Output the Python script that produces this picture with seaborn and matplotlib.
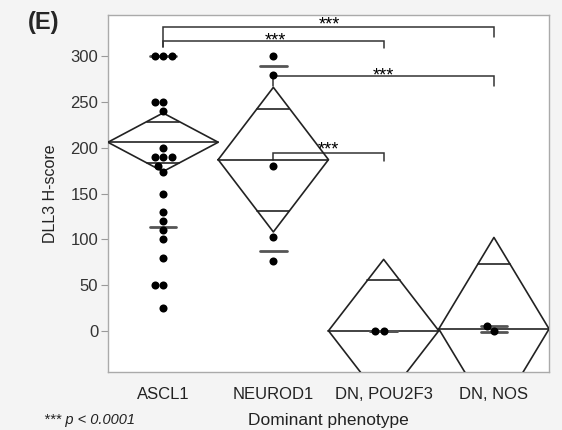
import numpy as np
import pandas as pd
import matplotlib
matplotlib.use('Agg')
import matplotlib.pyplot as plt
import seaborn as sns

## data
groups = ['ASCL1', 'NEUROD1', 'DN, POU2F3', 'DN, NOS']
ascl1 = [300, 300, 300, 250, 250, 240, 200, 190, 190, 190, 180, 173,
         150, 130, 120, 110, 100, 80, 50, 50, 25]
neurod1 = [300, 280, 180, 103, 76]
pou2f3 = [0, 0]
nos = [5, 0]

# means diamonds (group mean, 95% CI half width) and std dev lines
means = [206, 187, 0, 2]
ci_half = [32, 79, 78, 100]
sd_low = [113, 87, 0, -1]
sd_high = [300, 289, 0, 5]

# significance brackets: (left group, right group, bar height, left drop, right drop)
brackets = [(0, 3, 332, 310, 321),
            (0, 2, 317, 310, 309),
            (1, 3, 278, 267, 267),
            (1, 2, 194, 187, 185)]
# centre of each '***' label
star_pos = [(1.51, 340), (1.02, 323), (2.0, 284), (1.5, 204)]

## build the table
df = pd.DataFrame({
    'group': ['ASCL1'] * len(ascl1) + ['NEUROD1'] * len(neurod1)
             + ['DN, POU2F3'] * len(pou2f3) + ['DN, NOS'] * len(nos),
    'score': ascl1 + neurod1 + pou2f3 + nos,
})

sns.set_style('white')
plt.rcParams['font.family'] = ['Liberation Sans', 'DejaVu Sans']

fig = plt.figure(figsize=(5.62, 4.3), dpi=100, facecolor='#f4f4f4')
ax = fig.add_axes([0.192, 0.135, 0.785, 0.83])
ax.set_facecolor('white')

sns.swarmplot(data=df, x='group', y='score', order=groups, color='black',
              size=5.8, ax=ax, zorder=5)

line_col = '#222222'
for i, (m, c) in enumerate(zip(means, ci_half)):
    ax.plot([i - 0.5, i, i + 0.5, i, i - 0.5], [m, m + c, m, m - c, m],
            color=line_col, lw=1.2, zorder=3)
    ax.plot([i - 0.5, i + 0.5], [m, m], color=line_col, lw=1.2, zorder=3)
    ov = c / np.sqrt(2)
    hw = 0.5 * (1 - 1 / np.sqrt(2))
    for y in (m + ov, m - ov):
        ax.plot([i - hw, i + hw], [y, y], color=line_col, lw=1.2, zorder=3)
    for y in (sd_low[i], sd_high[i]):
        ax.plot([i - 0.12, i + 0.12], [y, y], color='#555555', lw=2, zorder=4)

# brackets with the asterisks sitting just above each bar
for (a, b, h, dl, dr), (sx, sy) in zip(brackets, star_pos):
    ax.plot([a, a, b, b], [dl, h, h, dr], color='#333333', lw=1.1,
            zorder=2, solid_joinstyle='miter')
    ax.text(sx, sy - 11, '***', ha='center', va='baseline', fontsize=13,
            color='black', zorder=6)

ax.set_xlim(-0.5, 3.5)
ax.set_ylim(-45, 345)
ax.set_yticks(range(0, 301, 50))
ax.set_xticks(range(4))
ax.set_xticklabels(groups)
ax.set_xticks([0.5, 1.5, 2.5], minor=True)
ax.tick_params(axis='x', which='major', length=0, pad=11, labelsize=12,
               labelcolor='#222222')
ax.tick_params(axis='x', which='minor', length=5, color='#999999')
ax.tick_params(axis='y', length=5, color='#999999', left=True,
               labelsize=12, labelcolor='#333333', pad=2)
for s in ax.spines.values():
    s.set_color('#aaaaaa')
    s.set_linewidth(1)

ax.set_xlabel('Dominant phenotype', fontsize=12.5, color='#222222', labelpad=8)
ax.set_ylabel('DLL3 H-score', fontsize=11.5, color='#222222', labelpad=9)

fig.text(0.05, 0.975, '(E)', fontsize=17, fontweight='bold', va='top', ha='left')
fig.text(0.078, 0.006, '*** p < 0.0001', fontsize=10.5, style='italic',
         va='bottom', ha='left', color='#222222')

fig.savefig('out.png', dpi=100, facecolor=fig.get_facecolor())
